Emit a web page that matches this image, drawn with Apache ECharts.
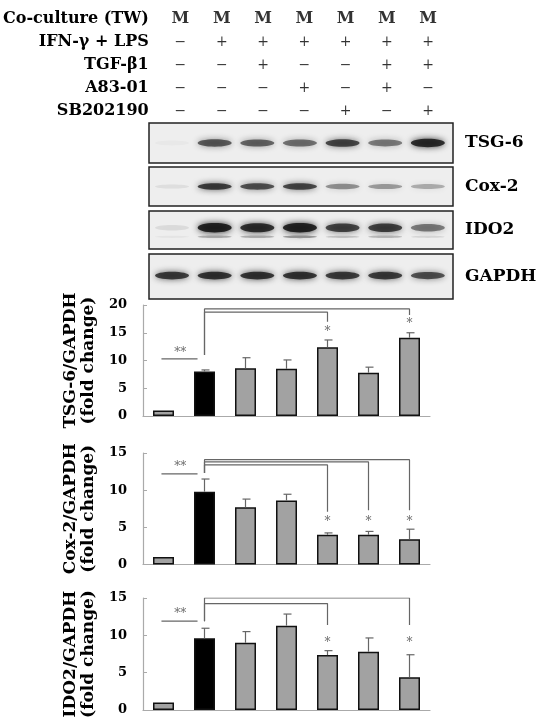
<!DOCTYPE html>
<html>
<head>
<meta charset="utf-8">
<script src="https://cdn.jsdelivr.net/npm/echarts@6/dist/echarts.min.js"></script>
<style>
  html, body { margin: 0; padding: 0; background: #fff; }
  #main { width: 550px; height: 727px; }
</style>
</head>
<body>
<div id="main"></div>
<script>
// treatment table
var rowNames = ['Co-culture (TW)', 'IFN-γ + LPS', 'TGF-β1', 'A83-01', 'SB202190'];
var coculture = ['M', 'M', 'M', 'M', 'M', 'M', 'M'];
var ifnLps    = ['−', '+', '+', '+', '+', '+', '+'];
var tgfb1     = ['−', '−', '+', '−', '−', '+', '+'];
var a8301     = ['−', '−', '−', '+', '−', '+', '−'];
var sb202190  = ['−', '−', '−', '−', '+', '−', '+'];

// western blot band intensity (0-1) per lane
var blotNames = ['TSG-6', 'Cox-2', 'IDO2', 'GAPDH'];
var tsgBand   = [0.03, 0.7, 0.65, 0.6, 0.8, 0.55, 0.95];
var coxBand   = [0.08, 0.85, 0.75, 0.8, 0.45, 0.4, 0.32];
var idoBand   = [0.1, 1.0, 0.92, 1.0, 0.8, 0.82, 0.55];
var idoBand2  = [0.05, 0.3, 0.3, 0.4, 0.2, 0.25, 0.12];
var gapdhBand = [0.85, 0.9, 0.9, 0.9, 0.85, 0.85, 0.75];

// quantification (fold change), mean and upper error
var tsgMean = [1.0, 8.0, 8.6, 8.5, 12.4, 7.8, 14.1];
var tsgErr  = [0, 0.3, 1.9, 1.6, 1.3, 1.0, 0.9];
var coxMean = [1.0, 9.8, 7.7, 8.6, 4.0, 4.0, 3.4];
var coxErr  = [0, 1.7, 1.1, 0.85, 0.25, 0.45, 1.35];
var idoMean = [1.0, 9.6, 9.0, 11.3, 7.35, 7.8, 4.4];
var idoErr  = [0, 1.35, 1.5, 1.55, 0.6, 1.85, 3.0];

// significance brackets against lane 1: [lane, top, drop, star]
var tsgSig = { start: 11.0, ref: 10.3, brackets: [[4, 18.7, 17.0, 15.2], [6, 19.3, 18.2, 16.6]] };
var coxSig = { start: 12.3, ref: 12.2, brackets: [[4, 13.4, 7.1, 5.8], [5, 13.8, 7.3, 5.8], [6, 14.1, 7.3, 5.8]] };
var idoSig = { start: 11.9, ref: 11.9, brackets: [[4, 14.25, 11.4, 9.0], [6, 15.0, 11.4, 9.0]] };

var FONT = 'DejaVu Serif';
var chart = echarts.init(document.getElementById('main'));

var grids = [], xAxes = [], yAxes = [], series = [];

// table grid
grids.push({ left: 149, top: 7.5, width: 304, height: 115 });
xAxes.push({ gridIndex: 0, type: 'value', min: -0.72, max: 6.6, show: false });
yAxes.push({
    gridIndex: 0, type: 'category', data: rowNames, inverse: true,
    axisLine: { show: false }, axisTick: { show: false },
    axisLabel: { margin: 2, color: '#000', fontFamily: FONT, fontWeight: 'bold', fontSize: 16 }
});
var tableRows = [coculture, ifnLps, tgfb1, a8301, sb202190];
var tableData = [];
tableRows.forEach(function (row, r) {
    row.forEach(function (t, i) { tableData.push([i, r, t]); });
});
series.push({
    type: 'scatter', xAxisIndex: 0, yAxisIndex: 0, symbolSize: 0, silent: true,
    data: tableData,
    label: {
        show: true, position: 'inside',
        formatter: function (p) { return p.value[1] === 0 ? '{m|' + p.value[2] + '}' : '{s|' + p.value[2] + '}'; },
        rich: {
            m: { fontFamily: FONT, fontWeight: 'bold', fontSize: 16, color: '#000' },
            s: { fontFamily: FONT, fontSize: 14, color: '#000' }
        }
    }
});

// blot grids
var blotBox = [[123, 40], [167, 39], [211, 38], [254, 45]];
var blotBands = [
    [[tsgBand, 0.5, 5]],
    [[coxBand, 0.5, 4.2]],
    [[idoBand, 0.56, 5.5], [idoBand2, 0.32, 2.2]],
    [[gapdhBand, 0.52, 4.8]]
];
blotBox.forEach(function (b, k) {
    var g = grids.length;
    grids.push({ left: 149, top: b[0], width: 304, height: b[1], show: true,
        backgroundColor: '#eeeeee', borderColor: '#222', borderWidth: 1.5 });
    xAxes.push({ gridIndex: g, type: 'value', min: -0.54, max: 6.59, show: false });
    yAxes.push({
        gridIndex: g, type: 'category', data: [blotNames[k]], position: 'right',
        axisLine: { show: false }, axisTick: { show: false },
        axisLabel: { margin: 12, color: '#000', fontFamily: FONT, fontWeight: 'bold', fontSize: 17 }
    });
    yAxes.push({ gridIndex: g, type: 'value', min: 0, max: 1, show: false });
    var yIdx = yAxes.length - 1;
    blotBands[k].forEach(function (bd) {
        var arr = bd[0], yPos = bd[1], h = bd[2];
        series.push({
            type: 'custom', xAxisIndex: g, yAxisIndex: yIdx, silent: true,
            data: arr.map(function (v, i) { return [i, v]; }),
            renderItem: function (params, api) {
                var c = api.coord([api.value(0), yPos]);
                var a = api.value(1);
                var ry = h * (0.55 + 0.45 * a);
                return {
                    type: 'ellipse', shape: { cx: c[0], cy: c[1], rx: 17, ry: ry * 0.85 },
                    style: { fill: 'rgba(20,20,20,' + (a * 0.88) + ')', shadowBlur: 6, shadowColor: 'rgba(20,20,20,' + a + ')' }
                };
            }
        });
    });
});

// bar charts
var barDefs = [
    { top: 305, height: 111, max: 20, name: 'TSG-6/GAPDH\n(fold change)', mean: tsgMean, err: tsgErr, sig: tsgSig },
    { top: 453, height: 111.5, max: 15, name: 'Cox-2/GAPDH\n(fold change)', mean: coxMean, err: coxErr, sig: coxSig },
    { top: 598, height: 112, max: 15, name: 'IDO2/GAPDH\n(fold change)', mean: idoMean, err: idoErr, sig: idoSig }
];
barDefs.forEach(function (d) {
    var g = grids.length;
    grids.push({ left: 143, top: d.top, width: 287, height: d.height });
    xAxes.push({ gridIndex: g, type: 'value', min: -0.5, max: 6.5,
        axisLine: { show: true, onZero: false, lineStyle: { color: '#aaa', width: 1.2 } },
        axisTick: { show: false }, axisLabel: { show: false }, splitLine: { show: false } });
    yAxes.push({ gridIndex: g, type: 'value', min: 0, max: d.max, interval: 5,
        name: d.name, nameLocation: 'middle', nameGap: 44, nameRotate: 90,
        nameTextStyle: { fontFamily: FONT, fontWeight: 'bold', fontSize: 17, lineHeight: 18, color: '#000' },
        axisLine: { show: true, onZero: false, lineStyle: { color: '#aaa', width: 1.2 } },
        axisTick: { show: true, inside: true, length: 4, lineStyle: { color: '#aaa' } },
        axisLabel: { margin: 16, color: '#000', fontFamily: FONT, fontWeight: 'bold', fontSize: 13 },
        splitLine: { show: false } });
    var yIdx = yAxes.length - 1;
    series.push({
        type: 'bar', xAxisIndex: g, yAxisIndex: yIdx, barWidth: 21, silent: true,
        data: d.mean.map(function (v, i) {
            return { value: [i, v], itemStyle: { color: i === 1 ? '#000' : '#a2a2a2' } };
        }),
        itemStyle: { borderColor: '#111', borderWidth: 1.5 }
    });
    series.push({
        type: 'custom', xAxisIndex: g, yAxisIndex: yIdx, silent: true, z: 3,
        data: d.mean.map(function (v, i) { return [i, v, v + d.err[i]]; }),
        renderItem: function (params, api) {
            if (api.value(2) <= api.value(1)) return null;
            var p0 = api.coord([api.value(0), api.value(1)]);
            var p1 = api.coord([api.value(0), api.value(2)]);
            var st = { stroke: '#666', lineWidth: 1.2 };
            return { type: 'group', children: [
                { type: 'line', shape: { x1: p0[0], y1: p0[1], x2: p1[0], y2: p1[1] }, style: st },
                { type: 'line', shape: { x1: p1[0] - 3, y1: p1[1], x2: p1[0] + 5, y2: p1[1] }, style: st }
            ] };
        }
    });
    series.push({
        type: 'line', xAxisIndex: g, yAxisIndex: yIdx, silent: true, symbol: 'none',
        lineStyle: { color: '#666', width: 1.2 },
        data: [[-0.05, d.sig.ref], [0.83, d.sig.ref]]
    });
    d.sig.brackets.forEach(function (b) {
        series.push({
            type: 'line', xAxisIndex: g, yAxisIndex: yIdx, silent: true, symbol: 'none',
            lineStyle: { color: '#666', width: 1.2 },
            data: [[1, d.sig.start], [1, b[1]], [b[0], b[1]], [b[0], b[2]]]
        });
    });
    var stars = [[0.41, d.sig.ref + 1.0, '**']].concat(d.sig.brackets.map(function (b) { return [b[0], b[3], '*']; }));
    series.push({
        type: 'scatter', xAxisIndex: g, yAxisIndex: yIdx, symbolSize: 0, silent: true,
        data: stars,
        label: { show: true, position: 'inside', color: '#444', fontFamily: FONT, fontSize: 12,
            formatter: function (p) { return p.value[2]; } }
    });
});

chart.setOption({
    animation: false,
    grid: grids,
    xAxis: xAxes,
    yAxis: yAxes,
    series: series
});
</script>
</body>
</html>
